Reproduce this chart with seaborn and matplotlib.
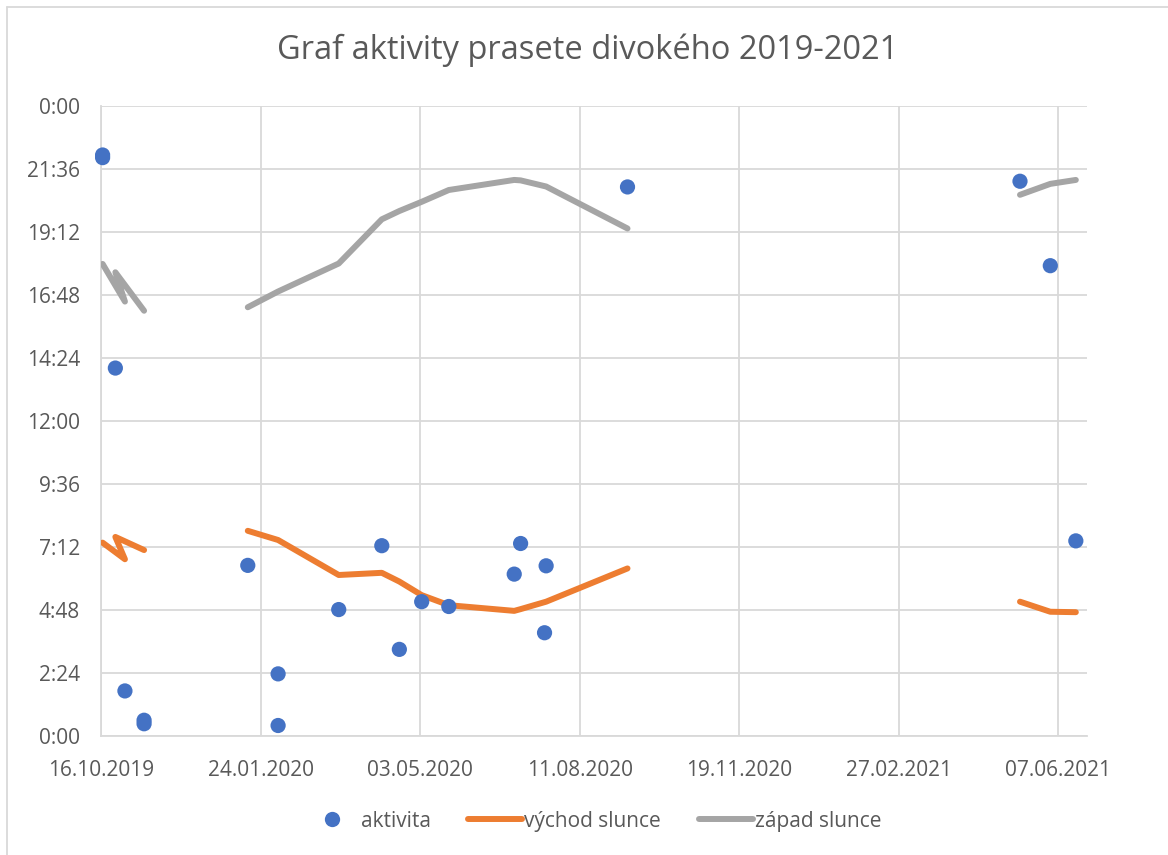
import matplotlib
matplotlib.use("Agg")
import matplotlib.pyplot as plt
import matplotlib.dates as mdates
from matplotlib.lines import Line2D
import seaborn as sns
import pandas as pd
import numpy as np

# aktivita (date, time of the record)
aktivita_datum = ["17.10.2019", "17.10.2019", "25.10.2019", "31.10.2019", "12.11.2019", "12.11.2019",
                  "16.01.2020", "04.02.2020", "04.02.2020", "13.03.2020", "09.04.2020", "20.04.2020",
                  "04.05.2020", "21.05.2020", "01.07.2020", "05.07.2020", "21.07.2020", "20.07.2020",
                  "10.09.2020", "14.05.2021", "02.06.2021", "18.06.2021"]
aktivita_cas = ["22:08", "22:02", "14:01", "1:43", "0:36", "0:28",
                "6:30", "2:22", "0:24", "4:49", "7:15", "3:18",
                "5:07", "4:56", "6:10", "7:20", "6:29", "3:56",
                "20:55", "21:08", "17:55", "7:26"]

# sun lines, kept in the order of the source table (segments split by gaps)
slunce_usek = [1, 1, 1, 1,
               2, 2, 2, 2, 2, 2, 2, 2, 2, 2, 2,
               3, 3, 3]
slunce_datum = ["17.10.2019", "31.10.2019", "25.10.2019", "12.11.2019",
                "16.01.2020", "04.02.2020", "13.03.2020", "09.04.2020", "20.04.2020", "04.05.2020",
                "21.05.2020", "01.07.2020", "05.07.2020", "21.07.2020", "10.09.2020",
                "14.05.2021", "02.06.2021", "18.06.2021"]
vychod = ["7:22", "6:44", "7:35", "7:05",
          "7:49", "7:28", "6:08", "6:13", "5:53", "5:22",
          "4:59", "4:46", "4:50", "5:07", "6:23",
          "5:07", "4:44", "4:43"]
zapad = ["17:59", "16:33", "17:40", "16:12",
         "16:20", "16:56", "18:00", "19:41", "20:00", "20:21",
         "20:48", "21:11", "21:10", "20:56", "19:20",
         "20:37", "21:02", "21:11"]

x_ticks = ["16.10.2019", "24.01.2020", "03.05.2020", "11.08.2020",
           "19.11.2020", "27.02.2021", "07.06.2021"]


def to_hours(t):
    h, m = t.split(":")
    return int(h) + int(m) / 60


def to_date(d):
    return pd.to_datetime(d, format="%d.%m.%Y")


df_akt = pd.DataFrame({"datum": [to_date(d) for d in aktivita_datum],
                       "hod": [to_hours(t) for t in aktivita_cas]})
df_sl = pd.DataFrame({"datum": [to_date(d) for d in slunce_datum],
                      "usek": slunce_usek,
                      "vychod": [to_hours(t) for t in vychod],
                      "zapad": [to_hours(t) for t in zapad]})

BLUE, ORANGE, GRAY = "#4472C4", "#ED7D31", "#A5A5A5"
GRID, TXT = "#D9D9D9", "#595959"

sns.set_style("white")
plt.rcParams["font.family"] = ["Open Sans", "DejaVu Sans"]

fig = plt.figure(figsize=(11.68, 8.55), dpi=100)
ax = fig.add_axes([101 / 1168, 1 - 736 / 855, (1087 - 101) / 1168, (736 - 106) / 855])

lw = 4.3
sns.lineplot(data=df_sl, x="datum", y="vychod", units="usek", estimator=None, sort=False,
             color=ORANGE, lw=lw, solid_capstyle="round", solid_joinstyle="round",
             ax=ax, legend=False, zorder=3)
sns.lineplot(data=df_sl, x="datum", y="zapad", units="usek", estimator=None, sort=False,
             color=GRAY, lw=lw, solid_capstyle="round", solid_joinstyle="round",
             ax=ax, legend=False, zorder=3)
sns.scatterplot(data=df_akt, x="datum", y="hod", color=BLUE, s=120, edgecolor="none",
                ax=ax, legend=False, zorder=4, clip_on=False)

# axes
start = to_date(x_ticks[0])
ax.set_xlim(start, start + pd.Timedelta(days=618))
ax.set_xticks([to_date(d) for d in x_ticks])
ax.xaxis.set_major_formatter(mdates.DateFormatter("%d.%m.%Y"))

yt = np.arange(0, 11) * 2.4
ax.set_ylim(0, 24)
ax.set_yticks(yt)
ylabels = []
for v in yt:
    mins = int(round(v * 60)) % (24 * 60)
    ylabels.append(f"{mins // 60}:{mins % 60:02d}")
ax.set_yticklabels(ylabels)

ax.grid(True, color=GRID, lw=1.3)
ax.set_axisbelow(True)
for s in ["top", "right"]:
    ax.spines[s].set_visible(False)
for s in ["left", "bottom"]:
    ax.spines[s].set_color(GRID)
    ax.spines[s].set_linewidth(1.3)
ax.tick_params(length=0, labelsize=15, labelcolor=TXT)
ax.tick_params(axis="x", pad=17)
ax.tick_params(axis="y", pad=15)
ax.set_xlabel("")
ax.set_ylabel("")

fig.text(0.503, 1 - 50 / 855, "Graf aktivity prasete divokého 2019-2021",
         ha="center", va="center", fontsize=23.5, color=TXT)

handles = [
    Line2D([], [], ls="none", marker="o", ms=11, color=BLUE, mec="none"),
    Line2D([], [], color=ORANGE, lw=lw, solid_capstyle="round"),
    Line2D([], [], color=GRAY, lw=lw, solid_capstyle="round"),
]
fig.legend(handles, ["aktivita", "východ slunce", "západ slunce"],
           loc="center", bbox_to_anchor=(593 / 1168, 1 - 821 / 855), ncol=3,
           frameon=False, fontsize=15, labelcolor=TXT, handlelength=2.6,
           handletextpad=0.1, columnspacing=1.8)

# chart border (top and left edges visible in the crop)
bx, by = 7 / 1168, 1 - 7 / 855
fig.add_artist(Line2D([bx, bx], [0, by], color=GRID, lw=1.3))
fig.add_artist(Line2D([bx, 1], [by, by], color=GRID, lw=1.3))

fig.savefig("out.png", dpi=100, facecolor="white")
